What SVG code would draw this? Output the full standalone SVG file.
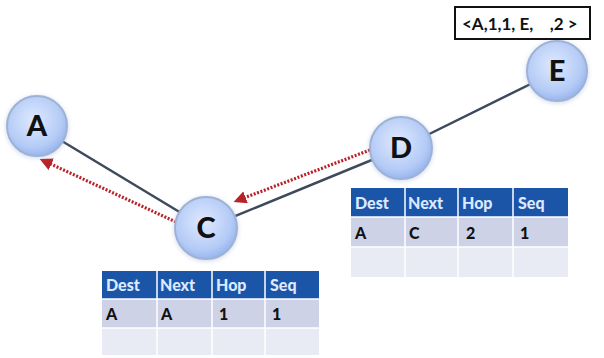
<svg xmlns="http://www.w3.org/2000/svg" width="604" height="358" viewBox="0 0 604 358">
  <defs>
    <radialGradient id="nodeFill" cx="0.45" cy="0.4" r="0.65">
      <stop offset="0" stop-color="#dfe9ff"/>
      <stop offset="0.7" stop-color="#b4cbf6"/>
      <stop offset="1" stop-color="#8eaeea"/>
    </radialGradient>
    <filter id="glow" x="-30%" y="-30%" width="160%" height="160%">
      <feGaussianBlur in="SourceAlpha" stdDeviation="2.5"/>
      <feOffset dx="0" dy="1" result="b"/>
      <feFlood flood-color="#8fa6cf" flood-opacity="0.45"/>
      <feComposite in2="b" operator="in"/>
      <feMerge><feMergeNode/><feMergeNode in="SourceGraphic"/></feMerge>
    </filter>
    <marker id="redHead" viewBox="0 0 10 10" refX="8" refY="5" markerWidth="4" markerHeight="4" orient="auto" markerUnits="strokeWidth">
      <path d="M0,0 L10,5 L0,10 z" fill="#b8232a"/>
    </marker>
  </defs>
  <style>
    .node circle { fill: url(#nodeFill); stroke: #9fb2d6; stroke-width: 2; filter: url(#glow); }
    .node text { font-family: "Lato", "Liberation Sans", sans-serif; font-weight: 900; font-size: 29px; fill: #111; text-anchor: middle; }
    .link { stroke: #3e4a5c; stroke-width: 2.5; fill: none; }
    .route { stroke: #b8232a; stroke-width: 3.2; stroke-dasharray: 2 1.6; fill: none; marker-end: url(#redHead); }
    .hdr { fill: #1b55a8; }
    .row1 { fill: #cdd2e6; }
    .row2 { fill: #e9ebf4; }
    .sep { stroke: #ffffff; stroke-width: 1.5; }
    .th { font-family: "Lato", "Liberation Sans", sans-serif; font-weight: 900; font-size: 16px; fill: #dce9ff; }
    .td { font-family: "Lato", "Liberation Sans", sans-serif; font-weight: 900; font-size: 16px; fill: #111; }
    .msg { font-family: "Lato", "Liberation Sans", sans-serif; font-weight: 700; font-size: 17px; fill: #111; white-space: pre; }
  </style>

  <rect width="604" height="358" fill="#ffffff"/>

  <!-- links and route arrows -->
  <g id="connectors">
    <line class="link" x1="37" y1="126" x2="206" y2="228"/>
    <line class="link" x1="206" y1="228" x2="401" y2="148"/>
    <line class="link" x1="401" y1="148" x2="557" y2="71"/>
    <line class="route" x1="370" y1="150" x2="236" y2="201"/>
    <line class="route" x1="176" y1="222" x2="42" y2="160"/>
  </g>

  <g id="node-A" class="node">
    <circle cx="37" cy="126" r="30"/>
    <text x="37" y="136">A</text>
  </g>
  <g id="node-C" class="node">
    <circle cx="206" cy="228" r="31"/>
    <text x="206" y="238">C</text>
  </g>
  <g id="node-D" class="node">
    <circle cx="401" cy="148" r="31"/>
    <text x="401" y="158">D</text>
  </g>
  <g id="node-E" class="node">
    <circle cx="557" cy="71" r="30"/>
    <text x="557" y="81">E</text>
  </g>

  <!-- route request message at E -->
  <g id="message">
    <rect x="455" y="7" width="135" height="32" fill="#ffffff" stroke="#111" stroke-width="2"/>
    <text class="msg" x="462" y="30" xml:space="preserve">&lt;A,1,1, E,    ,2 &gt;</text>
  </g>

  <!-- routing table of C -->
  <g id="table-C">
    <rect class="hdr" x="102" y="271" width="217" height="28"/>
    <rect class="row1" x="102" y="299" width="217" height="29"/>
    <rect class="row2" x="102" y="328" width="217" height="27"/>
    <line class="sep" x1="157" y1="271" x2="157" y2="355"/>
    <line class="sep" x1="212" y1="271" x2="212" y2="355"/>
    <line class="sep" x1="265" y1="271" x2="265" y2="355"/>
    <line class="sep" x1="102" y1="299" x2="319" y2="299"/>
    <line class="sep" x1="102" y1="328" x2="319" y2="328"/>
    <text class="th" x="106" y="291">Dest</text>
    <text class="th" x="160" y="291">Next</text>
    <text class="th" x="216" y="291">Hop</text>
    <text class="th" x="270" y="291">Seq</text>
    <text class="td" x="106" y="320">A</text>
    <text class="td" x="161" y="320">A</text>
    <text class="td" x="219" y="320">1</text>
    <text class="td" x="272" y="320">1</text>
  </g>

  <!-- routing table of D -->
  <g id="table-D">
    <rect class="hdr" x="351" y="188" width="217" height="29"/>
    <rect class="row1" x="351" y="217" width="217" height="30"/>
    <rect class="row2" x="351" y="247" width="217" height="30"/>
    <line class="sep" x1="405" y1="188" x2="405" y2="277"/>
    <line class="sep" x1="458" y1="188" x2="458" y2="277"/>
    <line class="sep" x1="513" y1="188" x2="513" y2="277"/>
    <line class="sep" x1="351" y1="217" x2="568" y2="217"/>
    <line class="sep" x1="351" y1="247" x2="568" y2="247"/>
    <text class="th" x="355" y="209">Dest</text>
    <text class="th" x="408" y="209">Next</text>
    <text class="th" x="462" y="209">Hop</text>
    <text class="th" x="518" y="209">Seq</text>
    <text class="td" x="355" y="239">A</text>
    <text class="td" x="409" y="239">C</text>
    <text class="td" x="466" y="239">2</text>
    <text class="td" x="520" y="239">1</text>
  </g>
</svg>
